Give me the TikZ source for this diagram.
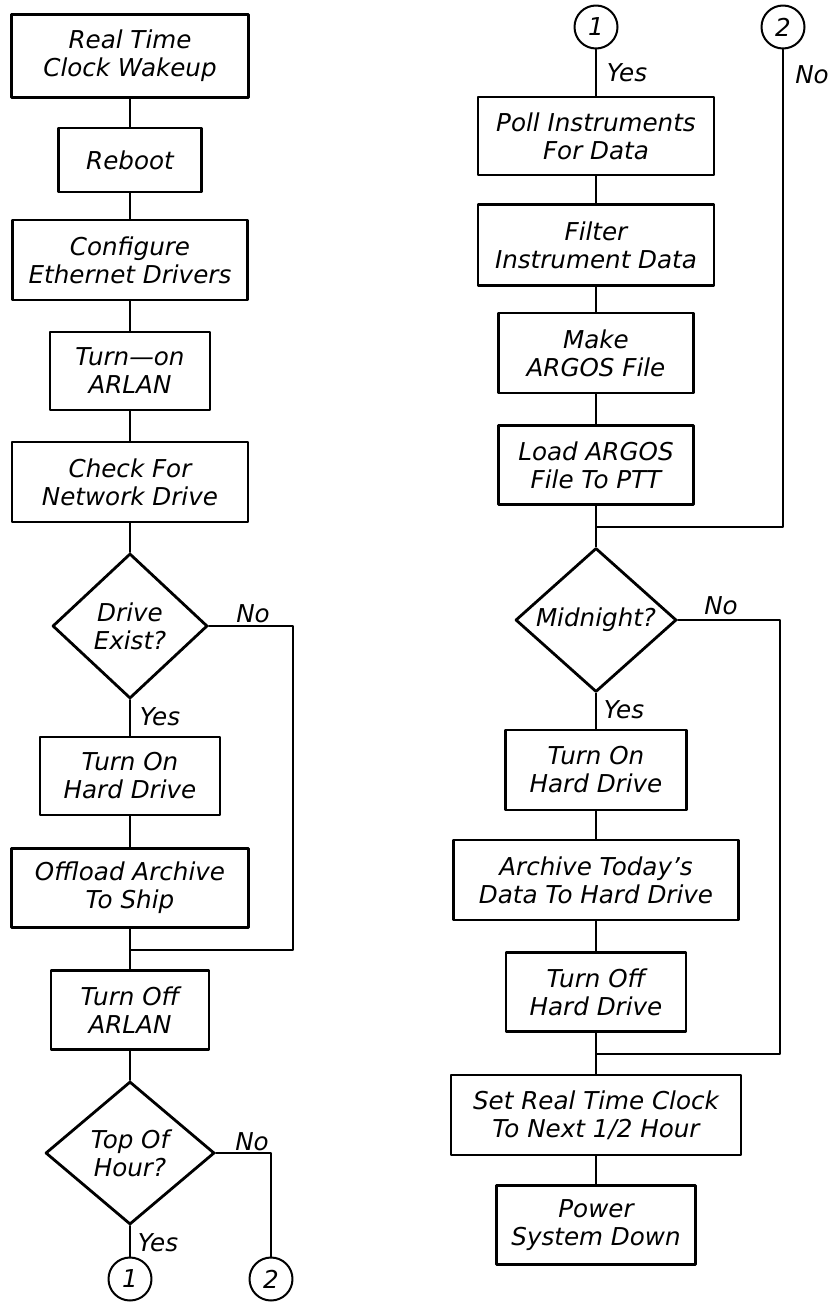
\documentclass[tikz,border=0pt]{standalone}
\usepackage{fontspec}
\setmainfont{DejaVu Sans}
\usetikzlibrary{shapes.geometric}
\begin{document}
\begin{tikzpicture}[x=0.5pt,y=-0.5pt,line join=round,line cap=round,
	font=\fontsize{12.3}{14}\selectfont\itshape,
	stepbox/.style={draw,line width=1.4pt,align=center,inner sep=0pt},
	test/.style={draw,diamond,line width=1.4pt,align=center,inner sep=0pt},
	conn/.style={draw,circle,line width=1pt,inner sep=0pt,minimum size=21.5pt},
	flow/.style={line width=1pt},
	lbl/.style={inner sep=0pt}]
	\useasboundingbox (0,0) rectangle (831,1305);
	\def\xl{130};
	\def\xr{596};
	% left column
	\node[stepbox,minimum width=118.5pt,minimum height=41.5pt] (wake) at (\xl,56) {Real Time\\Clock Wakeup};
	\node[stepbox,minimum width=71.5pt,minimum height=32pt] (reboot) at (\xl,160) {Reboot};
	\node[stepbox,minimum width=117.5pt,minimum height=40pt] (config) at (\xl,260) {Configure\\Ethernet Drivers};
	\node[stepbox,minimum width=80pt,minimum height=39pt] (arlanon) at (\xl,371) {Turn---on\\ARLAN};
	\node[stepbox,minimum width=118pt,minimum height=40pt] (check) at (\xl,482) {Check For\\Network Drive};
	\node[test,minimum width=77.5pt,minimum height=72.5pt] (exist) at (\xl,626) {Drive\\Exist?};
	\node[stepbox,minimum width=90pt,minimum height=39pt] (hdon) at (\xl,776) {Turn On\\Hard Drive};
	\node[stepbox,minimum width=118.5pt,minimum height=39.5pt] (offload) at (\xl,888) {Offload Archive\\To Ship};
	\node[stepbox,minimum width=79pt,minimum height=39.5pt] (arlanoff) at (\xl,1010) {Turn Off\\ARLAN};
	\node[test,minimum width=84.5pt,minimum height=71.5pt] (tophour) at (\xl,1153) {Top Of\\Hour?};
	\node[conn] (c1a) at (\xl,1279) {1};
	\node[conn] (c2a) at (271,1279) {2};
	\node[lbl] (no1) at (253,614) {No};
	\node[lbl] (yes1) at (160,717) {Yes};
	\node[lbl] (no2) at (252,1142) {No};
	\node[lbl] (yes2) at (158,1243) {Yes};
	% right column
	\node[conn] (c1b) at (\xr,27) {1};
	\node[conn] (c2b) at (783,27) {2};
	\node[stepbox,minimum width=118pt,minimum height=39pt] (poll) at (\xr,136) {Poll Instruments\\For Data};
	\node[stepbox,minimum width=118pt,minimum height=40.5pt] (filter) at (\xr,245) {Filter\\Instrument Data};
	\node[stepbox,minimum width=97.5pt,minimum height=40pt] (mkargos) at (\xr,353) {Make\\ARGOS File};
	\node[stepbox,minimum width=97.5pt,minimum height=39.5pt] (ldargos) at (\xr,465) {Load ARGOS\\File To PTT};
	\node[test,minimum width=80.5pt,minimum height=72pt] (midnight) at (\xr,620) {Midnight?};
	\node[stepbox,minimum width=90.5pt,minimum height=40pt] (hdon2) at (\xr,770) {Turn On\\Hard Drive};
	\node[stepbox,minimum width=142.5pt,minimum height=40pt] (archive) at (\xr,880) {Archive Today's\\Data To Hard Drive};
	\node[stepbox,minimum width=90pt,minimum height=39.5pt] (hdoff) at (\xr,992) {Turn Off\\Hard Drive};
	\node[stepbox,minimum width=145pt,minimum height=40pt] (setclk) at (\xr,1115) {Set Real Time Clock\\To Next 1/2 Hour};
	\node[stepbox,minimum width=99.5pt,minimum height=39.5pt] (powerdown) at (\xr,1225) {Power\\System Down};
	\node[lbl] (yes3) at (627,73) {Yes};
	\node[lbl] (no3) at (812,75) {No};
	\node[lbl] (no4) at (721,606) {No};
	\node[lbl] (yes4) at (624,710) {Yes};
	\path
	(293,950) coordinate (nx1)
	(\xl,950) coordinate (jn1)
	(\xr,527) coordinate (jn2)
	(780,1054) coordinate (nx3)
	(\xr,1054) coordinate (jn3);
	\draw[flow] (wake)--(reboot) (reboot)--(config) (config)--(arlanon) (arlanon)--(check) (check)--(exist) (exist)--(hdon) (hdon)--(offload) (offload)--(arlanoff) (arlanoff)--(tophour) (tophour)--(c1a);
	\draw[flow] (exist.east) -| (nx1) -- (jn1);
	\draw[flow] (tophour.east) -| (c2a.north);
	\draw[flow] (c1b)--(poll) (poll)--(filter) (filter)--(mkargos) (mkargos)--(ldargos) (ldargos)--(midnight) (midnight)--(hdon2) (hdon2)--(archive) (archive)--(hdoff) (hdoff)--(setclk) (setclk)--(powerdown);
	\draw[flow] (c2b.south) |- (jn2);
	\draw[flow] (midnight.east) -| (nx3) -- (jn3);
\end{tikzpicture}
\end{document}
